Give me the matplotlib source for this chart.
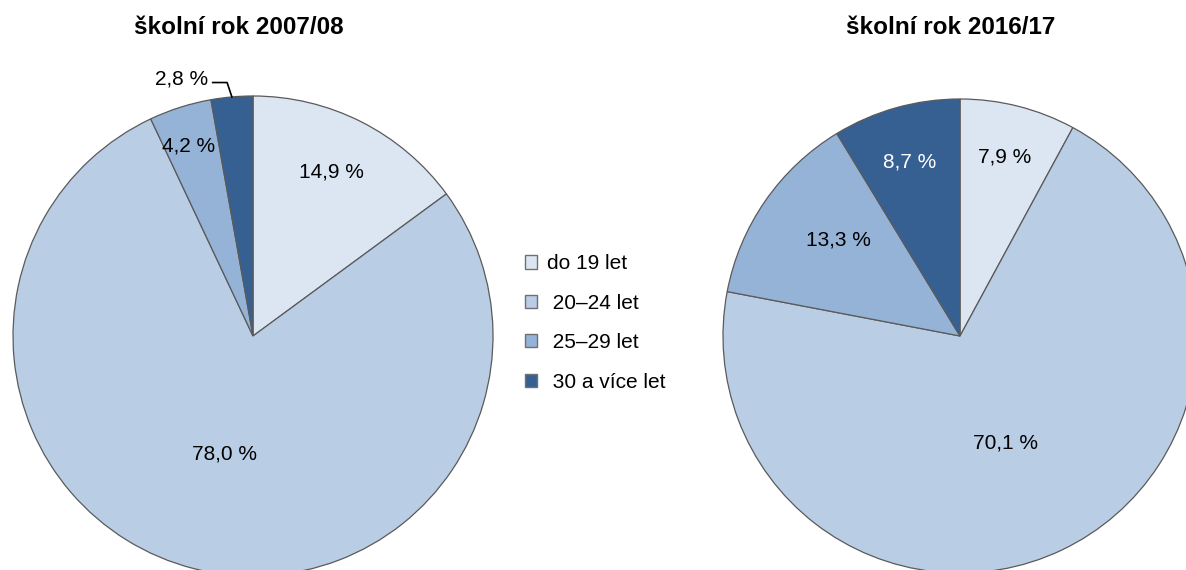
import numpy as np
import matplotlib.pyplot as plt

plt.rcParams['font.family'] = ['Liberation Sans', 'DejaVu Sans']

categories = ['do 19 let', ' 20–24 let', ' 25–29 let', ' 30 a více let']
colors = ['#DCE6F2', '#B9CDE5', '#95B3D7', '#376092']

titles = ['školní rok 2007/08', 'školní rok 2016/17']
shares_0708 = [14.9, 78.0, 4.2, 2.8]
shares_1617 = [7.9, 70.1, 13.3, 8.7]

# label positions (axes data units, radius = 1)
label_pos_0708 = [(0.325, 0.683), (-0.117, -0.49), (-0.267, 0.79), None]
label_pos_1617 = [(0.19, 0.755), (0.19, -0.45), (-0.515, 0.405), (-0.211, 0.734)]
label_col_1617 = ['black', 'black', 'black', 'white']

fig = plt.figure(figsize=(11.86, 5.70), dpi=100)

ax1 = fig.add_axes([13/1186, -6/570, 480/1186, 480/570])
ax2 = fig.add_axes([723/1186, -3/570, 474/1186, 474/570])

wedge_kw = dict(edgecolor='#5a5a5a', linewidth=0.9)


def fmt(v):
    return f'{v:.1f} %'.replace('.', ',')


for ax, shares in [(ax1, shares_0708), (ax2, shares_1617)]:
    ax.pie(shares, colors=colors, startangle=90, counterclock=False,
           radius=1, wedgeprops=wedge_kw)
    ax.set_xlim(-1, 1)
    ax.set_ylim(-1, 1)
    ax.set_aspect('equal')
    ax.axis('off')

for v, p in zip(shares_0708, label_pos_0708):
    if p is not None:
        ax1.text(p[0], p[1], fmt(v), ha='center', va='center', fontsize=15)

# small slice 2.8 % with leader line
tot = sum(shares_0708)
mid = np.deg2rad(90 + shares_0708[3] / tot * 360 / 2)
ex, ey = np.cos(mid), np.sin(mid)
ax1.plot([ex, ex - 0.02, ex - 0.08], [ey, ey + 0.06, ey + 0.06],
         color='black', lw=1.2, clip_on=False)
ax1.text(ex - 0.10, ey + 0.075, fmt(shares_0708[3]), ha='right', va='center',
         fontsize=15)

for v, p, c in zip(shares_1617, label_pos_1617, label_col_1617):
    ax2.text(p[0], p[1], fmt(v), ha='center', va='center', fontsize=15, color=c)

fig.text(239/1186, 1 - 27/570, titles[0], ha='center', va='center',
         fontsize=17.5, fontweight='bold')
fig.text(951/1186, 1 - 27/570, titles[1], ha='center', va='center',
         fontsize=17.5, fontweight='bold')

handles = [plt.Rectangle((0, 0), 1, 1, facecolor=c, edgecolor='#707070', lw=1)
           for c in colors]
fig.legend(handles, categories, loc='center left',
           bbox_to_anchor=(506/1186, 1 - 323/570), frameon=False,
           fontsize=15, handlelength=0.6, handleheight=0.6,
           handletextpad=0.45, labelspacing=0.98)

fig.savefig('out.png', dpi=100)
